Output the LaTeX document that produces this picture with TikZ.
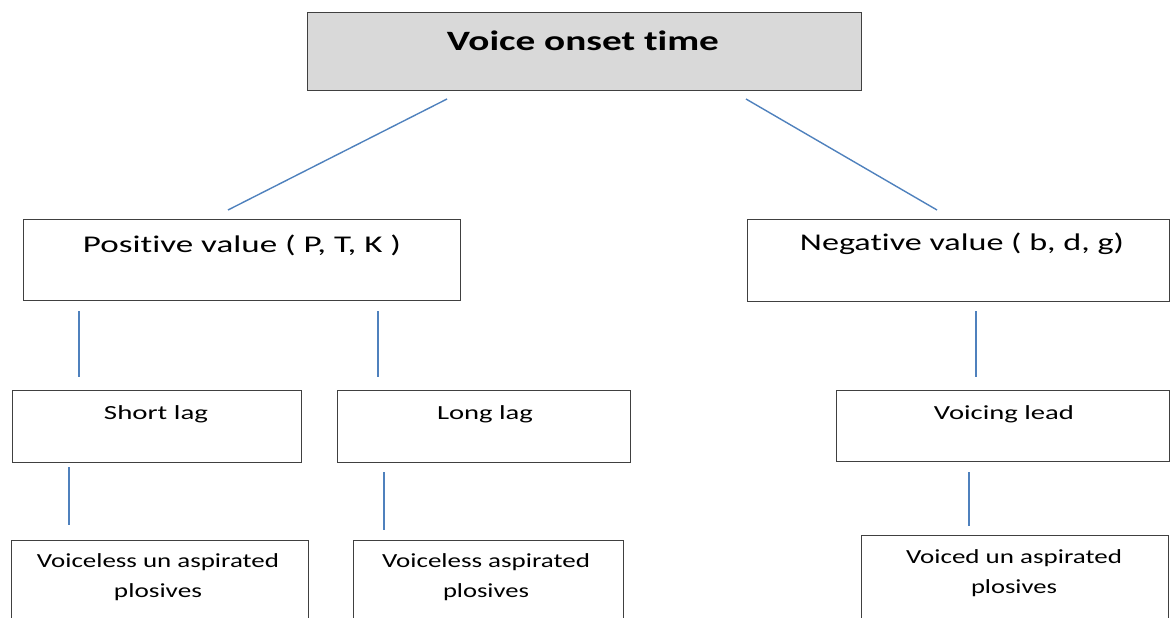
\documentclass[tikz,border=0pt]{standalone}
\usepackage{fontspec}
\setmainfont{Carlito}[Ligatures=NoCommon]
\definecolor{lineblue}{RGB}{79,129,189}
\definecolor{boxgray}{RGB}{217,217,217}
\definecolor{edge}{RGB}{64,64,64}
\newcommand{\tw}[2]{\resizebox{#1pt}{\height}{#2}}
\begin{document}
\begin{tikzpicture}[x=1pt,y=-1pt,
  box/.style={draw=edge, line width=1.2pt, rectangle, inner sep=0pt, anchor=north west},
  conn/.style={draw=lineblue, line width=1.4pt},
  big/.style={font=\fontsize{28}{32}\selectfont\bfseries, inner sep=0pt},
  mid/.style={font=\fontsize{24}{28}\selectfont, inner sep=0pt},
  small/.style={font=\fontsize{20}{30}\selectfont, inner sep=0pt, align=center}]
\useasboundingbox (0,0) rectangle (1171,618);
\clip (0,0) rectangle (1171,618);
% boxes
\node[box, fill=boxgray, minimum width=554pt, minimum height=78pt] (vot) at (307,12) {};
\node[box, minimum width=437pt, minimum height=81pt] (pos) at (23,219) {};
\node[box, minimum width=422pt, minimum height=82pt] (neg) at (747,219) {};
\node[box, minimum width=289pt, minimum height=72pt] (short) at (12,390) {};
\node[box, minimum width=293pt, minimum height=72pt] (long) at (337,390) {};
\node[box, minimum width=333pt, minimum height=71pt] (lead) at (836,390) {};
\node[box, minimum width=297pt, minimum height=100pt] (vua) at (11,540) {};
\node[box, minimum width=270pt, minimum height=100pt] (va) at (353,540) {};
\node[box, minimum width=307pt, minimum height=100pt] (vdua) at (861,535) {};
% texts
\node[big] (t-vot) at (583,41) {\tw{272}{Voice onset time}};
\node[mid] (t-pos) at (242,245) {\tw{318}{Positive value ( P, T, K )}};
\node[mid] (t-neg) at (962,244) {\tw{324}{Negative value ( b, d, g)}};
\node[small] (t-short) at (156,414) {\tw{104}{Short lag}};
\node[small] (t-long) at (485,414) {\tw{96}{Long lag}};
\node[small] (t-lead) at (1004,414) {\tw{140}{Voicing lead}};
\node[small] (t-vua) at (158,577) {\tw{242}{Voiceless un aspirated}\\\tw{88}{plosives}};
\node[small] (t-va) at (486,577) {\tw{208}{Voiceless aspirated}\\\tw{86}{plosives}};
\node[small] (t-vdua) at (1014,573) {\tw{216}{Voiced un aspirated}\\\tw{86}{plosives}};
% connector end points
\coordinate (a1) at (447,99);  \coordinate (a2) at (228,210);
\coordinate (b1) at (746,99);  \coordinate (b2) at (937,210);
\coordinate (c1) at (79,311);  \coordinate (c2) at (79,377);
\coordinate (d1) at (378,311); \coordinate (d2) at (378,377);
\coordinate (e1) at (976,311); \coordinate (e2) at (976,377);
\coordinate (f1) at (69,467);  \coordinate (f2) at (69,525);
\coordinate (g1) at (384,472); \coordinate (g2) at (384,530);
\coordinate (h1) at (969,472); \coordinate (h2) at (969,526);
\draw[conn] (a1) -- (a2);
\draw[conn] (b1) -- (b2);
\draw[conn] (c1) -- (c2);
\draw[conn] (d1) -- (d2);
\draw[conn] (e1) -- (e2);
\draw[conn] (f1) -- (f2);
\draw[conn] (g1) -- (g2);
\draw[conn] (h1) -- (h2);
\end{tikzpicture}
\end{document}
